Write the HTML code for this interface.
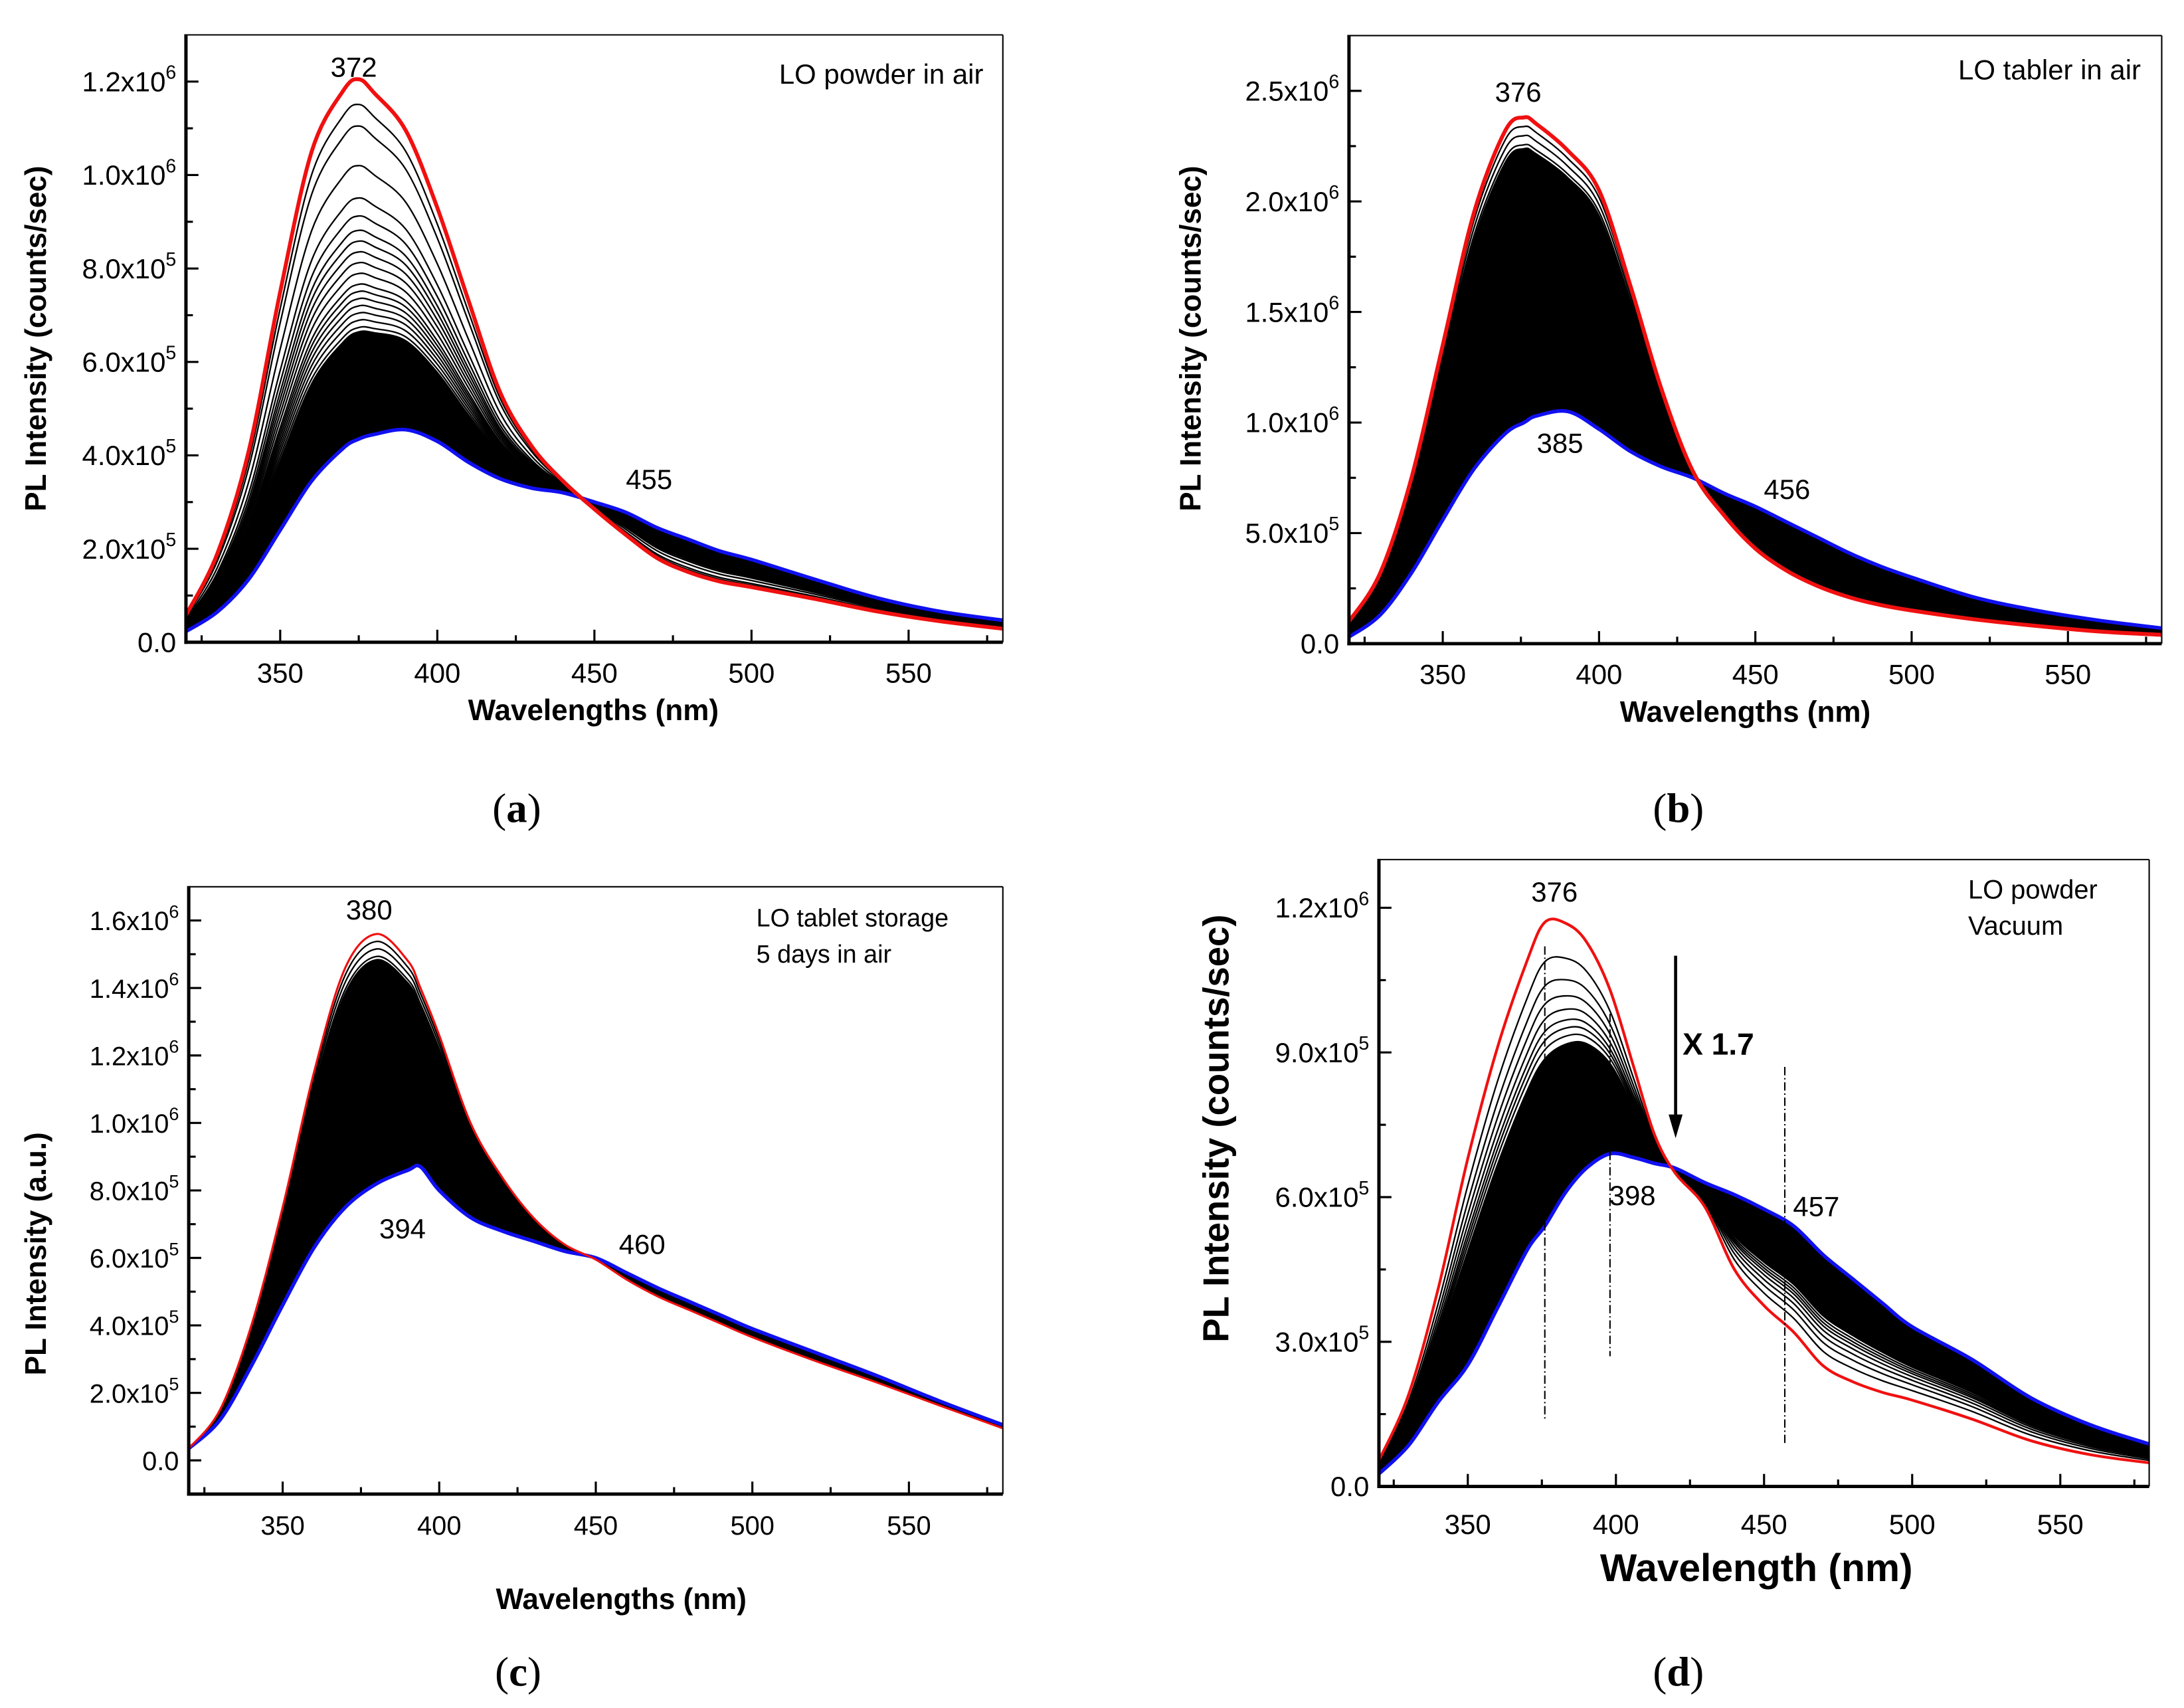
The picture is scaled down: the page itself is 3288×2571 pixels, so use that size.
<!DOCTYPE html>
<html><head><meta charset="utf-8">
<style>
html,body{margin:0;padding:0;background:#fff;}
svg{display:block;}
text{font-family:"Liberation Sans",Arial,sans-serif;fill:#000;}
.serif{font-family:"Liberation Serif",serif;}
</style></head>
<body>
<svg id="fig" xmlns="http://www.w3.org/2000/svg" width="3288" height="2571" viewBox="0 0 1568 1226">
<rect width="1568" height="1226" fill="#fff"/>
</svg>
<script>
// ---------- DATA (intensities in units of 1e5 counts/sec) ----------
const aWl=[320,330,340,350,360,370,375,380,390,400,410,420,430,440,450,460,470,480,490,500,520,540,560,580];
const aRed=[0.58,1.9,4.1,7.5,10.5,11.8,12.05,11.75,10.95,9.3,7.3,5.35,4.2,3.45,2.85,2.3,1.8,1.5,1.3,1.18,0.93,0.66,0.45,0.29];
const aBlue=[0.23,0.65,1.35,2.4,3.45,4.15,4.35,4.45,4.55,4.3,3.85,3.5,3.3,3.2,3.0,2.78,2.45,2.2,1.95,1.77,1.35,0.95,0.66,0.47];
const aFracs=[0.93,0.87,0.76,0.67,0.62,0.58,0.55,0.52,0.49,0.46,0.43,0.41,0.39,0.37,0.35,0.33,0.31,0.29,0.27,0.25,0.235,0.22,0.205,0.19,0.175,0.16,0.145,0.13,0.12,0.11,0.10,0.09,0.08,0.07,0.06,0.05,0.04,0.03,0.02,0.01];

const bWl=[320,330,340,350,360,370,376,380,390,400,410,420,430,440,450,460,470,480,490,500,520,540,560,580];
const bRed=[1.0,3.2,7.5,13.5,19.5,23.2,23.8,23.5,22.3,20.5,16.2,11.5,7.8,5.8,4.3,3.3,2.6,2.1,1.75,1.5,1.1,0.8,0.55,0.4];
const bBlue=[0.3,1.3,3.2,5.6,7.9,9.5,10.0,10.3,10.5,9.7,8.7,8.0,7.5,6.8,6.2,5.5,4.8,4.1,3.5,3.0,2.1,1.5,1.05,0.7];
const bFracs=[0.97,0.94,0.91,0.88,0.85,0.82,0.79,0.76,0.73,0.70,0.67,0.64,0.61,0.58,0.55,0.52,0.49,0.46,0.43,0.40,0.37,0.34,0.31,0.28,0.25,0.22,0.19,0.16,0.13,0.10,0.07,0.04];

const cWl=[320,330,340,350,360,370,380,390,394,400,410,420,430,440,450,460,470,480,490,500,520,540,560,580];
const cRed=[0.35,1.5,4.0,7.5,11.5,14.6,15.6,14.8,14.0,12.6,10.0,8.4,7.2,6.4,5.95,5.35,4.85,4.45,4.05,3.65,2.95,2.3,1.62,0.95];
const cBlue=[0.35,1.2,2.8,4.6,6.3,7.5,8.2,8.6,8.7,8.0,7.2,6.8,6.5,6.2,6.0,5.55,5.1,4.7,4.3,3.9,3.2,2.5,1.75,1.05];
const cFracs=[0.97,0.94,0.91,0.88,0.85,0.82,0.79,0.76,0.73,0.70,0.67,0.64,0.61,0.58,0.55,0.52,0.49,0.46,0.43,0.40,0.37,0.34,0.31,0.28,0.25,0.22,0.19,0.16,0.13,0.10,0.07,0.04];

const dWl=[320,330,340,350,360,370,376,383,390,398,406,413,420,430,440,450,460,470,480,490,500,520,540,560,580];
const dRed=[0.54,1.9,4.1,6.8,9.1,10.9,11.7,11.68,11.3,10.3,8.7,7.3,6.5,5.8,4.5,3.75,3.2,2.5,2.17,1.95,1.79,1.4,0.95,0.66,0.49];
const dBlue=[0.26,0.85,1.75,2.52,3.7,4.9,5.4,6.1,6.6,6.9,6.82,6.7,6.6,6.3,6.05,5.75,5.4,4.8,4.3,3.8,3.31,2.64,1.84,1.28,0.88];
const dFracs=[0.87,0.79,0.73,0.68,0.64,0.61,0.58,0.55,0.52,0.49,0.46,0.43,0.40,0.37,0.34,0.31,0.28,0.25,0.22,0.19,0.16,0.13,0.10,0.07,0.04];

const xMajor=[350,400,450,500,550];
const xMinor=[325,375,425,475,525,575];
const aYMajor=[0,2,4,6,8,10,12], aYMinor=[1,3,5,7,9,11];
const bYMajor=[0,5,10,15,20,25], bYMinor=[2.5,7.5,12.5,17.5,22.5];
const cYMajor=[0,2,4,6,8,10,12,14,16], cYMinor=[1,3,5,7,9,11,13,15];
const dYMajor=[0,3,6,9,12], dYMinor=[1.5,4.5,7.5,10.5];

// ---------- RENDER ----------
const NS="http://www.w3.org/2000/svg";
const svg=document.getElementById('fig');
function mk(tag,attrs,parent){const e=document.createElementNS(NS,tag);for(const k in attrs)e.setAttribute(k,attrs[k]);(parent||svg).appendChild(e);return e;}
function smooth(p){let d='M'+p[0][0].toFixed(2)+','+p[0][1].toFixed(2);
 for(let i=0;i<p.length-1;i++){const p0=p[i-1]||p[i],p1=p[i],p2=p[i+1],p3=p[i+2]||p[i+1];
  const c1=[p1[0]+(p2[0]-p0[0])/6,p1[1]+(p2[1]-p0[1])/6],c2=[p2[0]-(p3[0]-p1[0])/6,p2[1]-(p3[1]-p1[1])/6];
  d+='C'+c1[0].toFixed(2)+','+c1[1].toFixed(2)+' '+c2[0].toFixed(2)+','+c2[1].toFixed(2)+' '+p2[0].toFixed(2)+','+p2[1].toFixed(2);}
 return d;}
function fmt(v){if(v===0)return['0.0',''];if(v>=10)return[(v/10).toFixed(1)+'x10','6'];return[v.toFixed(1)+'x10','5'];}

function panel(P){
 const g=mk('g',{});  
 const X=w=>P.x0+(w-320)/260*(P.x1-P.x0);
 const Y=v=>P.y1-(v-P.ymin)/(P.ymax-P.ymin)*(P.y1-P.y0);
 const cid='clip-'+P.id;
 const cp=mk('clipPath',{id:cid},g); mk('rect',{x:P.x0,y:P.y0,width:P.x1-P.x0,height:P.y1-P.y0},cp);
 const plot=mk('g',{'clip-path':'url(#'+cid+')'},g);
  
 const blend=f=>P.wl.map((w,i)=>[X(w),Y(P.blue[i]+f*(P.red[i]-P.blue[i]))]);
 const top=blend(P.fill), bot=blend(0);
 const band=mk('path',{d:smooth(top)+'L'+smooth(bot.slice().reverse()).slice(1),fill:'#000',stroke:'none'},plot);
  
 P.fracs.forEach((f,k)=>{const l=mk('path',{d:smooth(blend(f)),fill:'none',stroke:'#000','stroke-width':1.1},plot);
   });
 const bl=mk('path',{d:smooth(blend(0)),fill:'none',stroke:'#1010f0','stroke-width':2.6},plot);
  
 const rd=mk('path',{d:smooth(blend(1)),fill:'none',stroke:'#f01010','stroke-width':P.redW},plot);
  
 if(P.extra)P.extra(plot,X,Y);
 mk('line',{x1:P.x0,y1:P.y0,x2:P.x1,y2:P.y0,stroke:'#000','stroke-width':1},g);
 mk('line',{x1:P.x1,y1:P.y0,x2:P.x1,y2:P.y1,stroke:'#000','stroke-width':1},g);
 const ya=mk('line',{x1:P.x0,y1:P.y0-0.5,x2:P.x0,y2:P.y1+1.2,stroke:'#000','stroke-width':2.4},g);
  
 const xa=mk('line',{x1:P.x0-1.2,y1:P.y1,x2:P.x1,y2:P.y1,stroke:'#000','stroke-width':2.4},g);
  
 xMajor.forEach(w=>{mk('line',{x1:X(w),y1:P.y1,x2:X(w),y2:P.y1-9,stroke:'#000','stroke-width':1.5},g);
  const t=mk('text',{x:X(w),y:P.y1+P.xl,'text-anchor':'middle','font-size':P.tfs},g); t.textContent=w;
   });
 xMinor.forEach(w=>mk('line',{x1:X(w),y1:P.y1,x2:X(w),y2:P.y1-5,stroke:'#000','stroke-width':1.5},g));
 P.yMajor.forEach(v=>{mk('line',{x1:P.x0,y1:Y(v),x2:P.x0+9,y2:Y(v),stroke:'#000','stroke-width':1.5},g);
  const f=fmt(v);const t=mk('text',{x:P.x0-7,y:Y(v)+7,'text-anchor':'end','font-size':P.tfs},g);
   
  const s1=mk('tspan',{},t); s1.textContent=f[0];
  if(f[1]){const s2=mk('tspan',{dy:-9,'font-size':P.tfs*0.68},t); s2.textContent=f[1];}});
 P.yMinor.forEach(v=>mk('line',{x1:P.x0,y1:Y(v),x2:P.x0+5,y2:Y(v),stroke:'#000','stroke-width':1.5},g));
 const yt=mk('text',{x:0,y:0,transform:'translate('+P.ytx+','+P.yty+') rotate(-90)','text-anchor':'middle','font-size':P.yfs,'font-weight':'bold'},g);
 yt.textContent=P.ytitle;  
 const xt=mk('text',{x:P.xtx,y:P.xty,'text-anchor':'middle','font-size':P.xfs,'font-weight':'bold'},g);
 xt.textContent=P.xtitle;  
 const sl=mk('text',{x:P.slx,y:P.sly,'text-anchor':'middle','font-size':30,'class':'serif'},g);
  
 const q1=mk('tspan',{},sl);q1.textContent='(';const q2=mk('tspan',{'font-weight':'bold'},sl);q2.textContent=P.id;const q3=mk('tspan',{},sl);q3.textContent=')';
 P.notes.forEach(n=>{const t=mk('text',{x:n[0],y:n[1],'text-anchor':n[3]||'middle','font-size':n[4]||20,'font-weight':n[5]||'normal'},g);t.textContent=n[2];
   });
}

panel({id:'a',name:'panel-a',x0:133.5,x1:720,y0:25,y1:461,ymin:0,ymax:13,wl:aWl,red:aRed,blue:aBlue,fracs:aFracs,fill:0.3,redW:2.8,
 yMajor:aYMajor,yMinor:aYMinor,tfs:20,xl:29,ytitle:'PL Intensity (counts/sec)',ytx:33,yty:243,yfs:21,xtitle:'Wavelengths (nm)',xtx:426,xty:517,xfs:21,slx:371,sly:590,
 notes:[[254,55,'372'],[466,351,'455'],[706,60,'LO powder in air','end',20,'normal','sample-label']]});
panel({id:'b',name:'panel-b',x0:968.5,x1:1552,y0:25.5,y1:462,ymin:0,ymax:27.5,wl:bWl,red:bRed,blue:bBlue,fracs:bFracs,fill:0.9,redW:2.8,
 yMajor:bYMajor,yMinor:bYMinor,tfs:20,xl:29,ytitle:'PL Intensity (counts/sec)',ytx:862,yty:243,yfs:21,xtitle:'Wavelengths (nm)',xtx:1253,xty:518,xfs:21,slx:1205,sly:590,
 notes:[[1090,73,'376'],[1120,325,'385'],[1283,358,'456'],[1537,57,'LO tabler in air','end',20,'normal','sample-label']]});
panel({id:'c',name:'panel-c',x0:135.5,x1:720,y0:636.5,y1:1072.5,ymin:-1,ymax:17,wl:cWl,red:cRed,blue:cBlue,fracs:cFracs,fill:0.9,redW:1.5,
 yMajor:cYMajor,yMinor:cYMinor,tfs:19,xl:29,ytitle:'PL Intensity (a.u.)',ytx:33,yty:900,yfs:21,xtitle:'Wavelengths (nm)',xtx:446,xty:1155,xfs:21,slx:372,sly:1210,
 notes:[[265,660,'380'],[289,889,'394'],[461,900,'460'],[543,665,'LO tablet storage','start',18,'normal','sample-label'],[543,691,'5 days in air','start',18,'normal','sample-label']]});
panel({id:'d',name:'panel-d',x0:990,x1:1543,y0:617,y1:1067,ymin:0,ymax:13,wl:dWl,red:dRed,blue:dBlue,fracs:dFracs,fill:0.55,redW:2,
 yMajor:dYMajor,yMinor:dYMinor,tfs:20,xl:34,ytitle:'PL Intensity (counts/sec)',ytx:882,yty:810,yfs:26,xtitle:'Wavelength (nm)',xtx:1261,xty:1135,xfs:28,slx:1205,sly:1210,
 notes:[[1116,647,'376'],[1172,865,'398'],[1304,873,'457'],[1413,645,'LO powder','start',19,'normal','sample-label'],[1413,671,'Vacuum','start',19,'normal','sample-label'],[1208,757,'X 1.7','start',22,'bold','scale-factor-label']],
 extra:(g,X,Y)=>{
  [[376,1.4,11.2],[398,2.7,9.8],[457,0.9,8.7]].forEach(m=>{const l=mk('line',{x1:X(m[0]),x2:X(m[0]),y1:Y(m[2]),y2:Y(m[1]),stroke:'#000','stroke-width':1,'stroke-dasharray':'6,2,1,2'},g);
    });
  const a=mk('line',{x1:1203,y1:686,x2:1203,y2:805,stroke:'#000','stroke-width':2.2},g);
   
  mk('polygon',{points:'1198,800 1208,800 1203,817',fill:'#000'},g);
 }});
</script>
</body></html>
